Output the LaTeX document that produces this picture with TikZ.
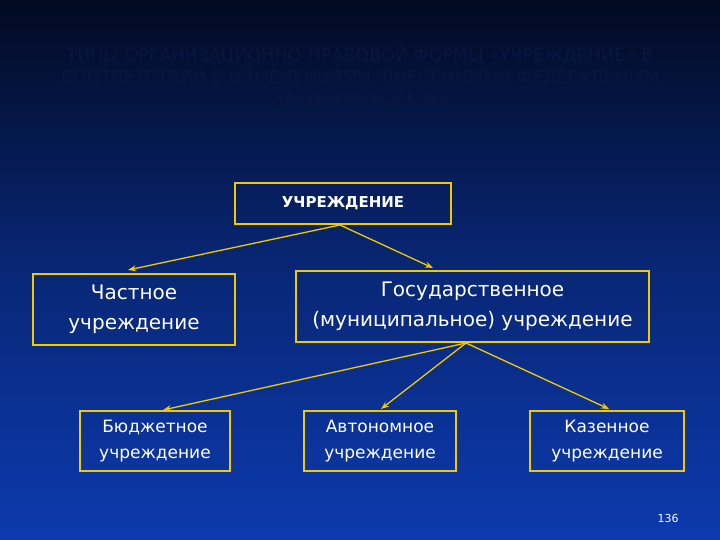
\documentclass[tikz,border=0pt]{standalone}
\usepackage{fontspec}
\setmainfont{DejaVu Sans}
\usetikzlibrary{arrows.meta}
\definecolor{ybox}{HTML}{F2C800}
\definecolor{bgtop}{HTML}{020A22}
\definecolor{bgbot}{HTML}{0C3AAE}
\definecolor{ttl}{HTML}{081640}
\begin{document}
\begin{tikzpicture}[x=1pt,y=-1pt,
  box/.style={draw=ybox,line width=1.8pt,align=center,text=white,inner sep=0pt},
  arr/.style={draw=ybox,line width=1.3pt,-{Stealth[length=8pt,width=6pt]}}]
\useasboundingbox (0,0) rectangle (720,540);
\shade[top color=bgtop,bottom color=bgbot,middle color=bgbot!60!bgtop] (0,0) rectangle (720,540);
\node[text=ttl,align=center,font=\fontsize{17.5}{22}\selectfont] (title) at (360,76)
 {ТИПЫ ОРГАНИЗАЦИОННО-ПРАВОВОЙ ФОРМЫ «УЧРЕЖДЕНИЕ» В\\СООТВЕТСТВИИ С ИЗМЕНЕНИЯМИ, ВНЕСЕННЫМИ ФЕДЕРАЛЬНЫМ\\ЗАКОНОМ № 83-ФЗ};
\node[box,minimum width=216pt,minimum height=41pt,font=\bfseries\fontsize{15}{18}\selectfont] (u) at (343,203.5) {УЧРЕЖДЕНИЕ};
\node[box,minimum width=202pt,minimum height=71pt,font=\fontsize{20}{30}\selectfont] (c) at (134,309.5) {Частное\\учреждение};
\node[box,minimum width=353pt,minimum height=71pt,font=\fontsize{20}{30}\selectfont] (g) at (472.5,306.5) {Государственное\\(муниципальное) учреждение};
\node[box,minimum width=150pt,minimum height=60pt,font=\fontsize{17}{26}\selectfont] (b) at (155,441) {Бюджетное\\учреждение};
\node[box,minimum width=152pt,minimum height=60pt,font=\fontsize{17}{26}\selectfont] (a) at (380,441) {Автономное\\учреждение};
\node[box,minimum width=154pt,minimum height=60pt,font=\fontsize{17}{26}\selectfont] (k) at (607,441) {Казенное\\учреждение};
\coordinate (us) at (340,225);
\coordinate (gs) at (466,343);
\draw[arr] (us) -- (128,270);
\draw[arr] (us) -- (433,268);
\draw[arr] (gs) -- (163,410);
\draw[arr] (gs) -- (381,409);
\draw[arr] (gs) -- (609,409);
\node[text=white,font=\fontsize{11}{12}\selectfont] (p) at (668,518) {136};
\end{tikzpicture}
\end{document}
